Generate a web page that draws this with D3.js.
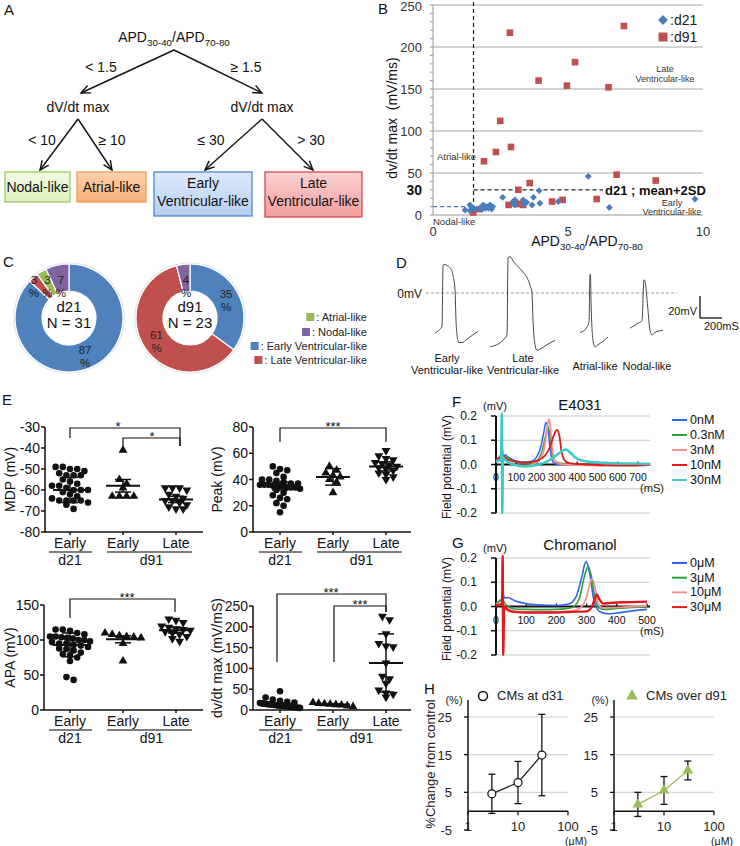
<!DOCTYPE html>
<html>
<head>
<meta charset="utf-8">
<script src="https://cdn.jsdelivr.net/npm/d3@7/dist/d3.min.js"></script>
<style>
html,body{margin:0;padding:0;background:#fff;}
svg{display:block;}
</style>
</head>
<body>
<svg id="fig" width="740" height="846"></svg>
<script>
// ================= DATA =================
// Panel A: decision tree
const treeSplit1 = ["< 1.5", "\u2265 1.5"];
const treeNode = "dV/dt max";
const treeSplit2 = ["< 10", "\u2265 10", "\u2264 30", "> 30"];
const treeLeaves = [["Nodal-like"], ["Atrial-like"], ["Early", "Ventricular-like"], ["Late", "Ventricular-like"]];

// Panel B: scatter
const bXTicks = [0, 5, 10];
const bYTicks = [0, 50, 100, 150, 200, 250];
const d21Ratio = [5.75, 9.70, 6.53, 3.93, 3.72, 2.58, 3.96, 4.64, 2.97, 3.04, 3.00, 3.34, 3.47, 3.67, 2.99, 1.37, 1.19, 1.37, 1.60, 1.86, 1.99, 1.81, 2.11, 2.21, 2.05, 1.74, 2.17, 3.04, 3.36, 1.93, 1.49];
const d21Dvdt  = [46, 19, 9, 29, 21, 21, 14, 16, 16, 18, 14, 18, 15, 12, 13, 12, 6, 5, 7, 12, 10, 7, 12, 10, 8, 8, 7, 12, 13, 8, 8];
const d91Ratio = [2.85, 7.07, 5.26, 3.91, 4.96, 6.50, 2.49, 2.89, 2.33, 1.89, 6.80, 8.25, 3.58, 3.16, 6.06, 4.80, 4.41, 2.80, 3.16, 3.34, 1.74, 1.49, 3.05];
const d91Dvdt  = [217, 225, 182, 160, 154, 152, 112, 81, 75, 64, 48, 41, 38, 30, 19, 18, 16, 12, 13, 12, 7, 3, 14];
const bThreshRatio = 1.5, bThreshDvdt = 30, bNodalDvdt = 10;

// Panel C: donuts
const cTypes  = ["Early Ventricular-like", "Late Ventricular-like", "Atrial-like", "Nodal-like"];
const cColors = ["#4F81BD", "#C0504D", "#9BBB59", "#8064A2"];
const cD21 = [87, 3, 3, 7];
const cD91 = [35, 61, 0, 4];
const cLegendOrder = ["Atrial-like", "Nodal-like", "Early Ventricular-like", "Late Ventricular-like"];

// Panel D: action potentials [ms, mV]
const apEarlyV = [[0,-36],[45,-33],[64,-30],[73,25],[82,26],[109,25],[136,23],[164,16],[182,3],[191,-25],[200,-38],[218,-45],[245,-45],[291,-42],[345,-38],[391,-35]];
const apLateV  = [[0,-49],[118,-43],[155,-38],[164,32],[182,33],[218,28],[255,24],[300,19],[336,14],[364,7],[382,0],[391,-25],[409,-47],[427,-52],[455,-51],[518,-47],[591,-43]];
const apAtrial = [[0,-36],[64,-31],[82,-26],[91,17],[95,17],[100,-6],[118,-43],[136,-49],[164,-47],[209,-44],[255,-40]];
const apNodal  = [[0,-32],[64,-28],[109,-25],[127,12],[136,11],[155,-6],[182,-34],[200,-38],[227,-36],[245,-35],[300,-34]];
const dLabels = [["Early","Ventricular-like"],["Late","Ventricular-like"],["Atrial-like"],["Nodal-like"]];

// Panel E: dot plots
const eCats = ["Early", "Early", "Late"];
const eDays = ["d21", "d91"];
const mdpD21E = [-49,-49,-50,-50,-51,-52,-53,-53,-53,-55,-56,-57,-58,-58,-59,-60,-60,-60,-61,-62,-63,-64,-65,-65,-65,-65,-66,-67,-69];
const mdpD91E = [-41,-55,-57,-59,-63,-63,-63,-63];
const mdpD91L = [-59,-59,-59,-60,-62,-63,-64,-65,-65,-66,-67,-68,-69,-69];
const mdpMean = [-60, -58, -64.5], mdpErr = [6, 3, 1.5];
const mdpTicks = [-80, -70, -60, -50, -40, -30];

const pkD21E = [50,48,47,45,42,40,40,39,38,37,37,36,36,36,35,35,35,34,34,34,33,32,30,28,26,25,22,20,15];
const pkD91E = [50,47,45,43,42,40,38,30];
const pkD91L = [62,58,56,55,53,52,51,50,49,48,47,45,44,42,40];
const pkMean = [35, 42, 50], pkErr = [3, 6.3, 3.5];
const pkTicks = [0, 20, 40, 60, 80];

const apaD21E = [115,115,113,110,108,105,105,104,103,102,100,100,98,97,95,95,93,92,90,88,87,85,82,80,78,75,70,47,43];
const apaD91E = [110,108,106,105,104,103,95,70];
const apaD91L = [130,128,125,120,118,116,115,114,112,110,108,105,102,98];
const apaMean = [93, 101, 114], apaErr = [17, 5, 4];
const apaTicks = [0, 50, 100, 150];

const dvD21E = [45,30,25,22,20,18,17,16,15,15,14,14,13,13,12,12,11,11,10,10,10,9,9,8,8,7,7,6,5,5];
const dvD91E = [18,16,15,14,13,12,10,8];
const dvD91L = [225,217,183,160,154,152,113,81,75,64,48,41,38,31];
const dvMean = [14, 13, 113], dvErr = [3, 2, 70];
const dvTicks = [0, 50, 100, 150, 200, 250];

// Panel F: E4031 field potentials [ms, mV]
const fNames  = ["0nM", "0.3nM", "3nM", "10nM", "30nM"];
const fColors = ["#2f63f0", "#2e9e3e", "#f59393", "#e0191c", "#3cc9c9"];
const f0   = [[0,0.02],[20,0.03],[28,0.05],[34,0.03],[45,0.04],[60,0.03],[100,0.015],[150,0.01],[180,0.015],[200,0.03],[220,0.07],[235,0.13],[246,0.173],[256,0.15],[266,0.07],[278,0.015],[300,0.0],[400,0.0],[500,0.0],[600,0.0],[700,0.0],[760,0.0]];
const f03  = [[0,0.02],[25,0.04],[30,0.07],[36,0.03],[50,0.03],[100,0.01],[150,0.003],[200,0.015],[225,0.05],[245,0.12],[256,0.158],[264,0.13],[274,0.06],[290,0.015],[320,0.005],[400,0.0],[500,0.0],[600,0.0],[700,0.0],[760,0.0]];
const f3   = [[0,0.01],[28,0.04],[38,0.025],[60,0.01],[100,-0.003],[150,-0.005],[200,0.008],[230,0.04],[248,0.12],[261,0.188],[270,0.14],[280,0.05],[295,0.01],[330,0.0],[400,-0.002],[500,-0.003],[600,-0.003],[700,-0.002],[760,0.0]];
const f10  = [[0,0.015],[22,0.03],[28,0.01],[35,0.035],[50,0.025],[100,0.01],[150,0.008],[200,0.015],[240,0.035],[265,0.07],[285,0.12],[300,0.143],[312,0.12],[322,0.06],[336,0.02],[360,0.006],[450,0.0],[550,-0.004],[650,-0.005],[760,0.0]];
const f30  = [[0,0.012],[25,0.02],[29,0.21],[31,-0.2],[34,0.03],[50,0.015],[100,-0.003],[150,-0.008],[200,-0.002],[250,0.012],[300,0.04],[330,0.058],[345,0.062],[365,0.05],[390,0.03],[420,0.017],[470,0.01],[550,0.006],[650,0.004],[760,0.003]];
const fXTicks = [0,100,200,300,400,500,600,700];
const fYTicks = [-0.2,-0.1,0.0,0.1,0.2];

// Panel G: Chromanol field potentials
const gNames  = ["0\u03bcM", "3\u03bcM", "10\u03bcM", "30\u03bcM"];
const gColors = ["#2f63f0", "#2e9e3e", "#f59393", "#e0191c"];
const g0  = [[0,0.015],[20,0.03],[24,0.05],[28,0.035],[40,0.037],[60,0.025],[100,0.012],[150,0.006],[200,0.004],[240,0.01],[265,0.04],[282,0.11],[298,0.185],[310,0.14],[322,0.04],[335,-0.01],[350,-0.025],[370,-0.03],[400,-0.027],[450,-0.018],[500,-0.012]];
const g3  = [[0,0.01],[22,0.03],[28,0.015],[40,0.0],[60,-0.01],[100,-0.012],[150,-0.013],[200,-0.012],[250,-0.005],[275,0.03],[292,0.12],[305,0.165],[315,0.13],[327,0.04],[340,-0.005],[360,-0.012],[400,-0.008],[450,-0.004],[500,-0.002]];
const g10 = [[0,0.005],[22,0.02],[28,0.0],[40,-0.01],[60,-0.02],[100,-0.022],[150,-0.023],[200,-0.022],[250,-0.018],[280,-0.005],[300,0.04],[312,0.1],[318,0.115],[326,0.09],[336,0.02],[350,-0.005],[380,-0.005],[450,0.0],[500,0.003]];
const g30 = [[0,0.005],[20,0.01],[22,0.21],[24,-0.2],[27,0.0],[40,-0.015],[60,-0.022],[100,-0.025],[150,-0.025],[200,-0.025],[250,-0.022],[300,-0.02],[318,0.0],[328,0.035],[334,0.05],[342,0.03],[355,0.012],[380,0.015],[450,0.018],[500,0.02]];
const gXTicks = [0,100,200,300,400,500];

// Panel H: concentration response
const hConc = [3, 10, 30];
const hD31Mean = [4.6, 7.6, 14.9], hD31Err = [5.2, 5.6, 10.8];
const hD91Mean = [1.8, 5.5, 10.8], hD91Err = [3.2, 3.7, 2.5];
const hYTicks = [-5, 5, 15, 25];
const hXTicks = [1, 10, 100];

// ================= DRAWING =================
const FF = '"Liberation Sans", Arial, Helvetica, sans-serif';
const svg = d3.select("#fig").attr("font-family", FF);

function T(g, x, y, s, o = {}) {
  const t = g.append("text").attr("x", x).attr("y", y).text(s)
    .attr("font-size", o.size || 12).attr("text-anchor", o.anchor || "start")
    .attr("fill", o.fill || "#111");
  if (o.weight) t.attr("font-weight", o.weight);
  if (o.rotate) t.attr("transform", `rotate(${o.rotate},${x},${y})`);
  return t;
}
function L(g, x1, y1, x2, y2, stroke = "#111", w = 1, dash = null) {
  const l = g.append("line").attr("x1", x1).attr("y1", y1).attr("x2", x2).attr("y2", y2)
    .attr("stroke", stroke).attr("stroke-width", w);
  if (dash) l.attr("stroke-dasharray", dash);
  return l;
}
function apdText(g, x, y, size, anchor) {
  const t = g.append("text").attr("x", x).attr("y", y).attr("font-size", size)
    .attr("text-anchor", anchor).attr("fill", "#111");
  t.append("tspan").text("APD");
  t.append("tspan").attr("font-size", size * 0.7).attr("dy", size * 0.3).text("30-40");
  t.append("tspan").attr("dy", -size * 0.3).text("/APD");
  t.append("tspan").attr("font-size", size * 0.7).attr("dy", size * 0.3).text("70-80");
}

// Panel letters
[["A",4,15],["B",378,14],["C",3,267],["D",396,268],["E",2,405],["F",452,407],["G",452,548],["H",424,694]]
  .forEach(([s,x,y]) => T(svg, x, y, s, {size: 15}));

// ---------- Panel A ----------
(function () {
  const g = svg.append("g");
  const defs = svg.append("defs");
  const grads = [["gN","#f3fbe6","#dcf1bd"],["gA","#fcd2ad","#f8b079"],["gE","#dde9fa","#b7cff1"],["gL","#fbd3d3","#f29c9c"]];
  grads.forEach(([id,c1,c2]) => {
    const lg = defs.append("linearGradient").attr("id", id).attr("x1",0).attr("y1",0).attr("x2",0).attr("y2",1);
    lg.append("stop").attr("offset","0%").attr("stop-color",c1);
    lg.append("stop").attr("offset","100%").attr("stop-color",c2);
  });
  function arrow(x1, y1, x2, y2) {
    L(g, x1, y1, x2, y2, "#111", 1.4);
    const a = Math.atan2(y2 - y1, x2 - x1), len = 10, w = 0.42;
    const p = [[x2 - len*Math.cos(a-w), y2 - len*Math.sin(a-w)], [x2, y2], [x2 - len*Math.cos(a+w), y2 - len*Math.sin(a+w)]];
    g.append("path").attr("d", d3.line()(p)).attr("fill","none").attr("stroke","#111").attr("stroke-width",1.4);
  }
  apdText(g, 174, 42, 14, "middle");
  arrow(174, 50, 81, 93); arrow(174, 50, 262, 93);
  T(g, 101, 72, treeSplit1[0], {size: 14, anchor: "middle"});
  T(g, 246, 72, treeSplit1[1], {size: 14, anchor: "middle"});
  T(g, 78, 112, treeNode, {size: 14, anchor: "middle"});
  T(g, 262, 112, treeNode, {size: 14, anchor: "middle"});
  arrow(78, 119, 40, 170); arrow(78, 119, 112, 170);
  arrow(262, 119, 205, 170); arrow(262, 119, 313, 170);
  const s2x = [42, 112, 211, 311];
  treeSplit2.forEach((s, i) => T(g, s2x[i], 145, s, {size: 14, anchor: "middle"}));
  const boxes = [[5,172,65,30,"gN","#98cc5e"],[77,172,69,30,"gA","#f29a55"],[154,172,98,44,"gE","#4f86d0"],[265,172,97,45,"gL","#d24a4a"]];
  boxes.forEach(([x,y,w,h,f,s], i) => {
    g.append("rect").attr("x",x).attr("y",y).attr("width",w).attr("height",h)
      .attr("fill",`url(#${f})`).attr("stroke",s).attr("stroke-width",1.3);
    const lines = treeLeaves[i];
    if (lines.length === 1) T(g, x + w/2, 192, lines[0], {size: 14, anchor: "middle"});
    else { T(g, x + w/2, 188, lines[0], {size: 14, anchor: "middle"}); T(g, x + w/2, 206, lines[1], {size: 14, anchor: "middle"}); }
  });
})();

// ---------- Panel B ----------
(function () {
  const g = svg.append("g");
  const x = d3.scaleLinear().domain([0, 10]).range([433, 703]);
  const y = d3.scaleLinear().domain([0, 250]).range([215, 5]);
  bYTicks.filter(v => v > 0).forEach(v => L(g, x(0), y(v), x(10), y(v), "#a8a8a8", 1));
  L(g, x(0), y(250), x(0), y(0), "#999", 1);
  L(g, x(0), y(0), x(10), y(0), "#999", 1);
  d3.range(0, 251, 10).forEach(v => L(g, x(0) - 3, y(v), x(0), y(v), "#999", 1));
  bYTicks.forEach(v => T(g, 422, Math.max(y(v) + 4.5, 10.5), String(v), {size: 13, anchor: "end", fill: "#333"}));
  T(g, 422, y(bThreshDvdt) + 5, "30", {size: 14, anchor: "end", weight: "bold"});
  bXTicks.forEach(v => T(g, x(v), 236, String(v), {size: 13, anchor: "middle", fill: "#333"}));
  apdText(g, 587, 246, 14, "middle");
  T(g, 397, 118, "dv/dt max  (mV/ms)", {size: 14, anchor: "middle", rotate: -90}).attr("xml:space","preserve");
  // threshold lines
  L(g, x(bThreshRatio), 2, x(bThreshRatio), y(0), "#222", 1.2, "4,3");
  L(g, x(bThreshRatio), y(bThreshDvdt), 603, y(bThreshDvdt), "#222", 1.2, "4,3");
  L(g, x(0), y(bNodalDvdt), x(bThreshRatio), y(bNodalDvdt), "#4a7ebb", 1.2, "4,3");
  T(g, 605, y(bThreshDvdt) + 5, "d21 ; mean+2SD", {size: 13, weight: "bold"});
  T(g, 437, 160, "Atrial-like", {size: 9.5, fill: "#333"});
  T(g, 665, 72, "Late", {size: 9, anchor: "middle", fill: "#333"});
  T(g, 665, 82, "Ventricular-like", {size: 9, anchor: "middle", fill: "#333"});
  T(g, 672, 206, "Early", {size: 9, anchor: "middle", fill: "#333"});
  T(g, 672, 214.5, "Ventricular-like", {size: 9, anchor: "middle", fill: "#333"});
  T(g, 433, 224.5, "Nodal-like", {size: 9.5, fill: "#333"});
  const sq = d3.symbol(d3.symbolSquare);
  d91Ratio.forEach((r, i) => g.append("path").attr("d", sq.size(44)())
    .attr("transform", `translate(${x(r)},${y(d91Dvdt[i])})`).attr("fill", "#C0504D"));
  d21Ratio.forEach((r, i) => g.append("path").attr("d", sq.size(24)())
    .attr("transform", `translate(${x(r)},${y(d21Dvdt[i])}) rotate(45)`).attr("fill", "#4A7EBB"));
  // legend
  g.append("path").attr("d", sq.size(48)()).attr("transform", "translate(663,20) rotate(45)").attr("fill", "#4A7EBB");
  T(g, 670, 25, ":d21", {size: 14, fill: "#222"});
  g.append("path").attr("d", sq.size(81)()).attr("transform", "translate(663,37)").attr("fill", "#C0504D");
  T(g, 670, 42, ":d91", {size: 14, fill: "#222"});
})();

// ---------- Panel C ----------
(function () {
  const g = svg.append("g");
  const pie = d3.pie().sort(null).value(d => d);
  const arc = d3.arc().innerRadius(27).outerRadius(54);
  function donut(cx, cy, vals, title, n) {
    const gg = g.append("g").attr("transform", `translate(${cx},${cy})`);
    gg.append("circle").attr("r", 55).attr("fill", "none").attr("stroke", "#e2e2e2").attr("stroke-width", 1.2);
    const arcs = pie(vals);
    gg.selectAll("path.s").data(arcs).enter().append("path")
      .attr("d", arc).attr("fill", (d, i) => cColors[i]).attr("stroke", "#fff").attr("stroke-width", 1.2);
    const labs = [];
    arcs.forEach((a, i) => {
      if (vals[i] === 0) return;
      const m = (a.startAngle + a.endAngle) / 2;
      if (vals[i] < 10) labs.push({v: vals[i], x: 44 * Math.sin(m) + 1.5, y: -33, small: true});
      else labs.push({v: vals[i], x: 40.5 * Math.sin(m), y: -40.5 * Math.cos(m), small: false});
    });
    const smalls = labs.filter(l => l.small).sort((a, b) => b.x - a.x);
    for (let k = 1; k < smalls.length; k++) smalls[k].x = Math.min(smalls[k].x, smalls[k - 1].x - 13.5);
    labs.forEach(l => {
      T(gg, l.x, l.y - 1.5, String(l.v), {size: 11.5, anchor: "middle", fill: "#222"});
      T(gg, l.x, l.y + 11.5, "%", {size: 11.5, anchor: "middle", fill: "#222"});
    });
    T(gg, 0, -6, title, {size: 15, anchor: "middle"});
    T(gg, 0, 10, "N = " + n, {size: 15, anchor: "middle"});
  }
  donut(69, 318, cD21, "d21", 31);
  donut(190, 318, cD91, "d91", 23);
  const ys = [321, 336, 350, 364];
  cLegendOrder.forEach((name, i) => {
    const t = T(g, 367, ys[i], ": " + name, {size: 11, anchor: "end", fill: "#222"});
    const w = t.node().getComputedTextLength();
    g.append("rect").attr("x", 367 - w - 10).attr("y", ys[i] - 8).attr("width", 8).attr("height", 8)
      .attr("fill", cColors[cTypes.indexOf(name)]);
  });
})();

// ---------- Panel D ----------
(function () {
  const g = svg.append("g");
  const dt = d3.scaleLinear().domain([0, 200]).range([0, 22]);
  const dv = d3.scaleLinear().domain([0, 20]).range([293, 271]);
  T(g, 422, dv(0) + 5, "0mV", {size: 12, anchor: "end", fill: "#222"});
  L(g, 426, dv(0), 677, dv(0), "#999", 1, "3,2");
  const traces = [[apEarlyV, 435], [apLateV, 490], [apAtrial, 580], [apNodal, 630]];
  traces.forEach(([data, x0]) => {
    const line = d3.line().x(d => x0 + dt(d[0])).y(d => dv(d[1])).curve(d3.curveMonotoneX);
    g.append("path").attr("d", line(data)).attr("fill", "none").attr("stroke", "#444").attr("stroke-width", 1);
  });
  const cx = [447, 523, 595, 647];
  dLabels.forEach((ls, i) => {
    if (ls.length === 2) { T(g, cx[i], 362, ls[0], {size: 11, anchor: "middle"}); T(g, cx[i], 374, ls[1], {size: 11, anchor: "middle"}); }
    else T(g, cx[i], 370, ls[0], {size: 11, anchor: "middle"});
  });
  // scale bar
  L(g, 700, 318 - (dv(0) - dv(20)), 700, 318, "#111", 1.3);
  L(g, 700, 318, 700 + dt(200), 318, "#111", 1.3);
  T(g, 697, 315, "20mV", {size: 11, anchor: "end"});
  T(g, 704, 330, "200mS", {size: 11});
})();

// ---------- Panel E ----------
function swarm(vals, y, cx, spacing, maxHalf) {
  const pts = vals.map(v => ({v, y: y(v)})).sort((a, b) => a.y - b.y);
  const rows = []; let cur = null;
  pts.forEach(p => { if (!cur || p.y - cur.y0 > 5) { cur = {y0: p.y, pts: []}; rows.push(cur); } cur.pts.push(p); });
  rows.forEach(r => {
    const n = r.pts.length; let sp = spacing;
    if (n > 1 && (n - 1) * sp / 2 > maxHalf) sp = 2 * maxHalf / (n - 1);
    r.pts.forEach((p, i) => p.x = cx + (i - (n - 1) / 2) * sp);
  });
  return pts;
}
function dotPlot(c) {
  const g = svg.append("g");
  const y = d3.scaleLinear().domain(c.domain).range([c.bottom, c.top]);
  L(g, c.ax, y(c.domain[1]), c.ax, c.bottom, "#111", 1.5);
  L(g, c.ax, c.bottom, c.right, c.bottom, "#111", 1.5);
  c.ticks.forEach(t => { L(g, c.ax - 4, y(t), c.ax, y(t), "#111", 1.5); T(g, c.ax - 5, y(t) + 5, String(t), {size: 14, anchor: "end"}); });
  T(g, c.titleX, (c.top + c.bottom) / 2, c.title, {size: 14, anchor: "middle", rotate: -90});
  c.xs.forEach((x, i) => { L(g, x, c.bottom, x, c.bottom + 3, "#111", 1.5); T(g, x, c.bottom + 16, eCats[i], {size: 14, anchor: "middle"}); });
  L(g, c.xs[0] - 21, c.bottom + 20, c.xs[0] + 22, c.bottom + 20, "#555", 1.5);
  L(g, c.xs[1] - 16, c.bottom + 20, c.xs[2] + 16, c.bottom + 20, "#555", 1.5);
  T(g, c.xs[0], c.bottom + 33, eDays[0], {size: 14, anchor: "middle"});
  T(g, (c.xs[1] + c.xs[2]) / 2 + 2, c.bottom + 33, eDays[1], {size: 14, anchor: "middle"});
  const tri = d3.symbol(d3.symbolTriangle).size(34)();
  c.groups.forEach((vals, gi) => {
    const pts = swarm(vals, y, c.xs[gi], 7.2, 20);
    pts.forEach(p => {
      if (gi === 0) g.append("circle").attr("cx", p.x).attr("cy", p.y).attr("r", 3.3).attr("fill", "#111");
      else g.append("path").attr("d", tri).attr("fill", "#111")
        .attr("transform", `translate(${p.x},${p.y})` + (gi === 2 ? " rotate(180)" : ""));
    });
    const m = c.mean[gi], e = c.err[gi], xc = c.xs[gi];
    L(g, xc - 17, y(m), xc + 17, y(m), "#111", 2);
    L(g, xc, y(m - e), xc, y(m + e), "#111", 1.5);
    L(g, xc - 8, y(m - e), xc + 8, y(m - e), "#111", 1.5);
    L(g, xc - 8, y(m + e), xc + 8, y(m + e), "#111", 1.5);
  });
  c.brackets.forEach(b => {
    g.append("path").attr("d", `M${b.x1},${b.l1}V${b.y}H${b.x2}V${b.l2}`)
      .attr("fill", "none").attr("stroke", "#111").attr("stroke-width", 1.2);
    T(g, b.lx, b.y + 3, b.label, {size: 13, anchor: "middle"});
  });
}
dotPlot({ax: 45, right: 203, top: 427, bottom: 532, domain: [-80, -30], ticks: mdpTicks, title: "MDP (mV)", titleX: 15,
  xs: [70, 123, 176], groups: [mdpD21E, mdpD91E, mdpD91L], mean: mdpMean, err: mdpErr,
  brackets: [{x1: 70, x2: 180, y: 428, l1: 438, l2: 446, label: "*", lx: 118}, {x1: 123, x2: 180, y: 438, l1: 446, l2: 446, label: "*", lx: 152}]});
dotPlot({ax: 253, right: 411, top: 427, bottom: 532, domain: [0, 80], ticks: pkTicks, title: "Peak (mV)", titleX: 222,
  xs: [280, 333, 386], groups: [pkD21E, pkD91E, pkD91L], mean: pkMean, err: pkErr,
  brackets: [{x1: 280, x2: 386, y: 428, l1: 442, l2: 442, label: "***", lx: 333}]});
dotPlot({ax: 44, right: 203, top: 605, bottom: 710, domain: [0, 150], ticks: apaTicks, title: "APA (mV)", titleX: 15,
  xs: [70, 123, 176], groups: [apaD21E, apaD91E, apaD91L], mean: apaMean, err: apaErr,
  brackets: [{x1: 70, x2: 175, y: 599, l1: 618, l2: 612, label: "***", lx: 127}]});
dotPlot({ax: 253, right: 411, top: 606, bottom: 710, domain: [0, 250], ticks: dvTicks, title: "dv/dt max (mV/mS)", titleX: 222,
  xs: [280, 333, 386], groups: [dvD21E, dvD91E, dvD91L], mean: dvMean, err: dvErr,
  brackets: [{x1: 277, x2: 386, y: 594, l1: 662, l2: 612, label: "***", lx: 331}, {x1: 334, x2: 386, y: 606, l1: 662, l2: 612, label: "***", lx: 360}]});

// ---------- Panels F & G ----------
function fieldPlot(c) {
  const g = svg.append("g");
  const x = d3.scaleLinear().domain([0, c.xMax]).range([496, c.x700]);
  const y = d3.scaleLinear().domain([-0.2, 0.2]).range([c.bottom, c.bottom - 97]);
  const xEnd = 650;
  fYTicks.filter(v => v !== 0).forEach(v => L(g, 496, y(v), xEnd, y(v), "#c8c8c8", 1));
  L(g, 496, y(0), xEnd, y(0), "#111", 2);
  L(g, 496, y(0.2), 496, y(-0.2), "#111", 2);
  fYTicks.forEach(v => { L(g, 491, y(v), 496, y(v), "#111", 1.5); T(g, 477, y(v) + 4, v.toFixed(1), {size: 12, anchor: "end"}); });
  c.xTicks.forEach(t => { L(g, x(t), y(0) - 3, x(t), y(0), "#111", 1.3); T(g, x(t), c.xLabY, String(t), {size: 10.5, anchor: "middle"}); });
  T(g, 652, c.xLabY + 10.5, "(mS)", {size: 11, anchor: "middle"});
  T(g, 495, c.mvY, "(mV)", {size: 11, anchor: "middle"});
  T(g, 580, c.titleY, c.title, {size: 15, anchor: "middle"});
  T(g, 451, c.bottom - 46, "Field potential (mV)", {size: 12, anchor: "middle", rotate: -90});
  c.traces.forEach((tr, i) => {
    const line = d3.line().x(d => x(d[0])).y(d => y(d[1])).curve(d3.curveMonotoneX);
    g.append("path").attr("d", line(tr)).attr("fill", "none").attr("stroke", c.colors[i])
      .attr("stroke-width", c.widths[i]);
  });
  c.names.forEach((n, i) => {
    const ly = c.legY + i * c.legStep;
    L(g, 672, ly - 4, 687, ly - 4, c.colors[i], 2);
    T(g, 690, ly, n, {size: 12.5});
  });
}
fieldPlot({xMax: 700, x700: 638, bottom: 513, xTicks: fXTicks, xLabY: 481, mvY: 410, title: "E4031", titleY: 410,
  traces: [f0, f03, f3, f10, f30], colors: fColors, widths: [1.5, 1.5, 1.8, 1.8, 2.6], names: fNames, legY: 424, legStep: 15});
fieldPlot({xMax: 500, x700: 647, bottom: 655, xTicks: gXTicks, xLabY: 624, mvY: 552, title: "Chromanol", titleY: 550,
  traces: [g0, g3, g10, g30], colors: gColors, widths: [1.6, 1.6, 1.8, 2.4], names: gNames, legY: 567, legStep: 14.7});

// ---------- Panel H ----------
function hPlot(c) {
  const g = svg.append("g");
  const x = d3.scaleLog().domain([1, 100]).range([c.ax, c.ax + 100]);
  const y = d3.scaleLinear().domain([-5, 25]).range([830, 717]);
  [5, 15, 25].forEach(v => L(g, c.ax, y(v), c.ax + 100, y(v), "#cfcfcf", 1));
  L(g, c.ax, 700, c.ax, y(-5), "#111", 1.5);
  hYTicks.forEach(v => { L(g, c.ax - 4, y(v), c.ax, y(v), "#111", 1.3); T(g, c.ax - 16, y(v) + 5, String(v), {size: 13, anchor: "end", fill: "#222"}); });
  L(g, c.ax, y(0), c.ax + 100, y(0), "#111", 1.5);
  hXTicks.forEach(v => { L(g, x(v), y(0), x(v), y(0) + 4, "#111", 1.3); T(g, x(v), 831, String(v), {size: 13, anchor: "middle", fill: "#222"}); });
  T(g, c.ax + 108, 845, "(\u03bcM)", {size: 10.5, anchor: "middle", fill: "#222"});
  T(g, c.ax - 14, 704, "(%)", {size: 11, anchor: "middle", fill: "#222"});
  const line = d3.line().x((d, i) => x(hConc[i])).y(d => y(d));
  g.append("path").attr("d", line(c.mean)).attr("fill", "none").attr("stroke", c.lineColor).attr("stroke-width", 1.3);
  c.mean.forEach((m, i) => {
    const xc = x(hConc[i]);
    L(g, xc, y(m - c.err[i]), xc, y(m + c.err[i]), "#111", 1.3);
    L(g, xc - 3.5, y(m - c.err[i]), xc + 3.5, y(m - c.err[i]), "#111", 1.3);
    L(g, xc - 3.5, y(m + c.err[i]), xc + 3.5, y(m + c.err[i]), "#111", 1.3);
  });
  c.mean.forEach((m, i) => {
    const xc = x(hConc[i]);
    if (c.marker === "circle") g.append("circle").attr("cx", xc).attr("cy", y(m)).attr("r", 4).attr("fill", "#fff").attr("stroke", "#111").attr("stroke-width", 1.2);
    else g.append("path").attr("d", d3.symbol(d3.symbolTriangle).size(50)()).attr("transform", `translate(${xc},${y(m)})`).attr("fill", "#9BBB59");
  });
  if (c.marker === "circle") g.append("circle").attr("cx", c.legX).attr("cy", 696).attr("r", 4.5).attr("fill", "#fff").attr("stroke", "#111").attr("stroke-width", 1.5);
  else g.append("path").attr("d", d3.symbol(d3.symbolTriangle).size(60)()).attr("transform", `translate(${c.legX},696)`).attr("fill", "#9BBB59");
  T(g, c.legX + 14, 700, c.legend, {size: 13, fill: "#222"});
}
hPlot({ax: 468, mean: hD31Mean, err: hD31Err, marker: "circle", lineColor: "#222", legX: 483, legend: "CMs at d31"});
hPlot({ax: 614, mean: hD91Mean, err: hD91Err, marker: "tri", lineColor: "#9BBB59", legX: 632, legend: "CMs over d91"});
T(svg, 435, 764, "%Change from control", {size: 13, anchor: "middle", rotate: -90, fill: "#222"});
</script>
</body>
</html>
